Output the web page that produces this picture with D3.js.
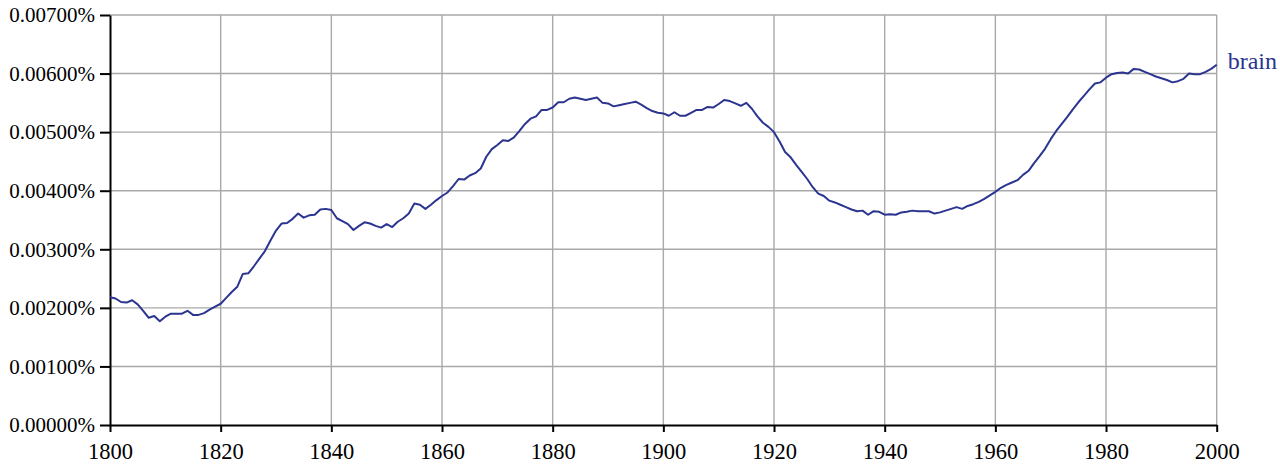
<!DOCTYPE html>
<html>
<head>
<meta charset="utf-8">
<script src="https://cdn.jsdelivr.net/npm/d3@7"></script>
<style>
  html, body { margin: 0; padding: 0; background: #fff; }
  svg { display: block; }
</style>
</head>
<body>
<svg id="chart" width="1280" height="469"></svg>
<script>
// ---- data ----
const years = d3.range(1800, 2001);
// values in percent (e.g. 0.00218 = 0.00218%)
const brain = [
  0.00218, 0.00216, 0.00210, 0.00209, 0.00213, 0.00206, 0.00195, 0.00183, 0.00186, 0.00177,
  0.00185, 0.00190, 0.00190, 0.00190, 0.00195, 0.00188, 0.00188, 0.00191, 0.00197, 0.00202,
  0.00207, 0.00217, 0.00227, 0.00236, 0.00258, 0.00259, 0.00271, 0.00284, 0.00297, 0.00315,
  0.00332, 0.00344, 0.00345, 0.00352, 0.00361, 0.00354, 0.00358, 0.00359, 0.00368, 0.00369,
  0.00367, 0.00353, 0.00348, 0.00343, 0.00333, 0.00340, 0.00346, 0.00344, 0.00340, 0.00337,
  0.00343, 0.00338, 0.00347, 0.00353, 0.00361, 0.00378, 0.00376, 0.00369, 0.00376, 0.00384,
  0.00391, 0.00397, 0.00408, 0.00420, 0.00419, 0.00426, 0.00430, 0.00438, 0.00458, 0.00471,
  0.00478, 0.00486, 0.00485, 0.00491, 0.00502, 0.00514, 0.00523, 0.00527, 0.00538, 0.00538,
  0.00542, 0.00551, 0.00551, 0.00557, 0.00559, 0.00557, 0.00555, 0.00557, 0.00559, 0.00550,
  0.00549, 0.00544, 0.00546, 0.00548, 0.00550, 0.00552, 0.00547, 0.00541, 0.00536, 0.00533,
  0.00532, 0.00528, 0.00534, 0.00528, 0.00528, 0.00533, 0.00538, 0.00538, 0.00543, 0.00542,
  0.00548, 0.00555, 0.00553, 0.00549, 0.00545, 0.00550, 0.00540, 0.00527, 0.00516, 0.00509,
  0.00500, 0.00484, 0.00466, 0.00457, 0.00444, 0.00432, 0.00420, 0.00406, 0.00395, 0.00391,
  0.00383, 0.00380, 0.00376, 0.00372, 0.00368, 0.00365, 0.00366, 0.00359, 0.00365, 0.00364,
  0.00359, 0.00360, 0.00359, 0.00363, 0.00364, 0.00366, 0.00365, 0.00365, 0.00365, 0.00361,
  0.00363, 0.00366, 0.00369, 0.00372, 0.00369, 0.00374, 0.00377, 0.00381, 0.00386, 0.00392,
  0.00398, 0.00405, 0.00410, 0.00414, 0.00418, 0.00427, 0.00434, 0.00447, 0.00459, 0.00472,
  0.00488, 0.00502, 0.00514, 0.00526, 0.00539, 0.00551, 0.00562, 0.00573, 0.00583, 0.00585,
  0.00593, 0.00599, 0.00601, 0.00602, 0.00600, 0.00608, 0.00607, 0.00603, 0.00599, 0.00595,
  0.00592, 0.00589, 0.00585, 0.00587, 0.00591, 0.00600, 0.00599, 0.00599, 0.00603, 0.00608,
  0.00615
];
const seriesName = "brain";
const xTicks = [1800, 1820, 1840, 1860, 1880, 1900, 1920, 1940, 1960, 1980, 2000];
const yTicks = [0, 0.001, 0.002, 0.003, 0.004, 0.005, 0.006, 0.007];
const yTickLabels = ["0.00000%", "0.00100%", "0.00200%", "0.00300%", "0.00400%", "0.00500%", "0.00600%", "0.00700%"];

// ---- layout ----
const FONT = "'Liberation Serif', 'DejaVu Serif', serif";
const margin = { left: 110, top: 15, right: 63.3, bottom: 44 };
const W = 1280, H = 469;
const svg = d3.select("#chart");
const x = d3.scaleLinear().domain([1800, 2000]).range([margin.left, W - margin.right]);
const y = d3.scaleLinear().domain([0, 0.007]).range([H - margin.bottom, margin.top]);

const lineColor = "#2b3590";
const gridColor = "#a9a9a9";

// grid
const g = svg.append("g");
g.selectAll("line.h").data(yTicks.slice(1)).join("line")
  .attr("x1", x(1800)).attr("x2", x(2000))
  .attr("y1", d => y(d)).attr("y2", d => y(d))
  .attr("stroke", gridColor).attr("stroke-width", 1.4);
g.selectAll("line.v").data(xTicks.slice(1)).join("line")
  .attr("y1", y(0)).attr("y2", y(0.007))
  .attr("x1", d => x(d)).attr("x2", d => x(d))
  .attr("stroke", gridColor).attr("stroke-width", 1.4);

// axes
const yAxis = d3.axisLeft(y).tickValues(yTicks)
  .tickFormat((d, i) => yTickLabels[i]).tickSize(10).tickPadding(5).tickSizeOuter(0);
const yg = svg.append("g").attr("transform", `translate(${x(1800)},0)`).call(yAxis)
  .attr("font-family", null).attr("font-size", null);
yg.select(".domain").attr("stroke", "#000").attr("stroke-width", 2);
yg.selectAll(".tick line").attr("stroke", "#000").attr("stroke-width", 2);
yg.selectAll(".tick text").style("font-size", "21px").style("font-family", FONT).attr("fill", "#000")
  .attr("x", -15);

const xAxis = d3.axisBottom(x).tickValues(xTicks).tickFormat(d3.format("d"))
  .tickSize(7).tickPadding(11).tickSizeOuter(0);
const xg = svg.append("g").attr("transform", `translate(0,${y(0)})`).call(xAxis)
  .attr("font-family", null).attr("font-size", null);
xg.select(".domain").attr("stroke", "#000").attr("stroke-width", 2);
xg.selectAll(".tick line").attr("stroke", "#000").attr("stroke-width", 2);
xg.selectAll(".tick text").style("font-size", "22.5px").style("font-family", FONT).attr("fill", "#000");

// line
const data = years.map((yr, i) => ({ yr, v: brain[i] }));
svg.append("path").datum(data)
  .attr("fill", "none").attr("stroke", lineColor).attr("stroke-width", 2)
  .attr("stroke-linejoin", "round")
  .attr("d", d3.line().x(d => x(d.yr)).y(d => y(d.v)));

// series label
svg.append("text")
  .attr("x", x(2000) + 11).attr("y", y(brain[brain.length - 1]) + 4)
  .style("font-size", "24px").style("font-family", FONT).attr("fill", lineColor)
  .text(seriesName);
</script>
</body>
</html>
